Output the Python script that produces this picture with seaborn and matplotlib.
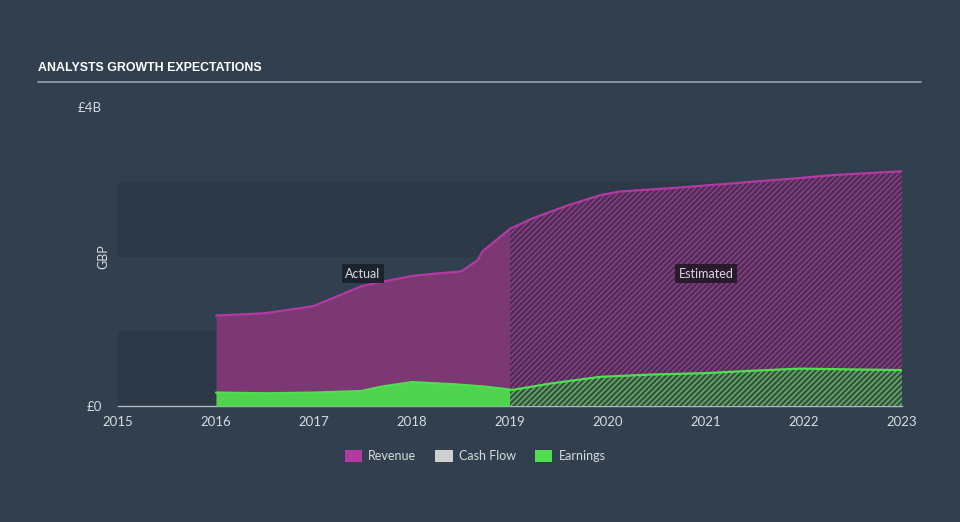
import numpy as np
import pandas as pd
import matplotlib
matplotlib.use("Agg")
import matplotlib.pyplot as plt
from matplotlib.patches import Patch
import seaborn as sns

# ---- data (GBP billions) ----
rev_act_years = [2016.0, 2016.49, 2016.87, 2017.0, 2017.48, 2017.65, 2018.0, 2018.23, 2018.5, 2018.57, 2018.67, 2018.72, 2019.0]
rev_act_vals = [1.21, 1.24, 1.31, 1.34, 1.60, 1.65, 1.74, 1.77, 1.80, 1.86, 1.95, 2.07, 2.37]
earn_act_years = [2016.0, 2016.53, 2017.0, 2017.48, 2017.69, 2018.0, 2018.44, 2018.74, 2019.0]
earn_act_vals = [0.18, 0.17, 0.18, 0.20, 0.26, 0.32, 0.29, 0.26, 0.22]
rev_est_years = [2019.0, 2019.23, 2019.58, 2019.92, 2020.12, 2020.60, 2021.28, 2021.96, 2022.30, 2023.0]
rev_est_vals = [2.37, 2.51, 2.68, 2.82, 2.87, 2.91, 2.98, 3.05, 3.09, 3.14]
earn_est_years = [2019.0, 2019.41, 2019.92, 2020.43, 2021.0, 2021.45, 2021.96, 2022.47, 2023.0]
earn_est_vals = [0.21, 0.30, 0.39, 0.42, 0.44, 0.47, 0.50, 0.49, 0.48]
x_ticks = [2015, 2016, 2017, 2018, 2019, 2020, 2021, 2022, 2023]
y_ticks = [0, 4e9]
y_tick_labels = ["£0", "£4B"]
legend_labels = ["Revenue", "Cash Flow", "Earnings"]

BG = "#323f4e"
BAND = "#2d3947"
TXT = "#d6dbe0"
REV_LINE = "#b23aa3"
REV_FILL = "#7b3873"
EARN_LINE = "#4fe04f"
EARN_FILL = "#50d450"

sns.set_theme(style="dark")
plt.rcParams["font.family"] = ["Lato", "DejaVu Sans"]
plt.rcParams["hatch.linewidth"] = 1.0

fig = plt.figure(figsize=(9.6, 5.22), dpi=100, facecolor=BG)
ax = fig.add_axes([118 / 960, 1 - 406 / 522, (902 - 118) / 960, (406 - 107) / 522])
ax.set_facecolor(BG)

ax.axhspan(0, 1e9, color=BAND, zorder=0, lw=0)
ax.axhspan(2e9, 3e9, color=BAND, zorder=0, lw=0)

def df(years, vals):
    return pd.DataFrame({"year": years, "value": np.array(vals) * 1e9})

ra = df(rev_act_years, rev_act_vals)
ea = df(earn_act_years, earn_act_vals)
re_ = df(rev_est_years, rev_est_vals)
ee = df(earn_est_years, earn_est_vals)

# actual areas
ax.fill_between(ra["year"], 0, ra["value"], color=REV_FILL, lw=0, zorder=2)
ax.fill_between(ea["year"], 0, ea["value"], color=EARN_FILL, lw=0, zorder=3)
# estimated hatched areas
ax.fill_between(re_["year"], 0, re_["value"], facecolor="#4d2f55", edgecolor="#923d8b",
                hatch="//////", lw=0, zorder=2)
ax.fill_between(ee["year"], 0, ee["value"], facecolor="#3b5146", edgecolor="#62bb62",
                hatch="//////", lw=0, zorder=3)

sns.lineplot(data=ra, x="year", y="value", color=REV_LINE, lw=1.6, ax=ax, zorder=4)
sns.lineplot(data=re_, x="year", y="value", color=REV_LINE, lw=1.6, ax=ax, zorder=4)
sns.lineplot(data=ea, x="year", y="value", color=EARN_LINE, lw=1.6, ax=ax, zorder=5)
sns.lineplot(data=ee, x="year", y="value", color=EARN_LINE, lw=1.6, ax=ax, zorder=5)

ax.set_xlim(2015, 2023)
ax.set_ylim(0, 4e9)
ax.set_xticks(x_ticks)
ax.set_xticklabels([str(t) for t in x_ticks])
ax.set_yticks(y_ticks)
ax.set_yticklabels(y_tick_labels)
ax.tick_params(axis="x", colors="#aeb7c1", length=6, width=1, labelcolor=TXT, labelsize=9.5, pad=1)
ax.tick_params(axis="y", length=0, labelcolor=TXT, labelsize=9.5, pad=11.5)
ax.set_xlabel("")
ax.set_ylabel("GBP", color=TXT, fontsize=9, labelpad=6)
ax.yaxis.set_label_coords(-0.011, 0.5)
for s in ["top", "right", "left"]:
    ax.spines[s].set_visible(False)
ax.spines["bottom"].set_color("#aeb7c1")
ax.spines["bottom"].set_linewidth(1)
ax.grid(False)

# annotations
ax.text(2017.5, 1.77e9, "Actual", ha="center", va="center", color=TXT, fontsize=9, zorder=6,
        bbox=dict(boxstyle="square,pad=0.3", fc="#1b232c", ec="none"))
ax.text(2021.0, 1.77e9, "Estimated", ha="center", va="center", color=TXT, fontsize=9, zorder=6,
        bbox=dict(boxstyle="square,pad=0.3", fc="#2a1a2e", ec="none"))

# title
fig.text(38 / 960, 1 - 68 / 522, "ANALYSTS GROWTH EXPECTATIONS", color="white",
         fontweight="bold", ha="left", va="center", fontsize=8.9,
         family=["Liberation Sans", "DejaVu Sans"])
fig.add_artist(plt.Line2D([38 / 960, 921 / 960], [1 - 82 / 522, 1 - 82 / 522],
                          color="#9aa3ad", lw=1.2))

# legend
handles = [Patch(facecolor=REV_LINE, edgecolor="none"),
           Patch(facecolor="#d0d0d0", edgecolor="none"),
           Patch(facecolor=EARN_LINE, edgecolor="none")]
leg = fig.legend(handles, legend_labels, loc="center", bbox_to_anchor=(475 / 960, 1 - 456 / 522),
                 ncol=3, frameon=False, fontsize=9, handlelength=1.4, handleheight=1.1,
                 columnspacing=1.5, handletextpad=0.5)
for t in leg.get_texts():
    t.set_color(TXT)

fig.savefig("out.png", dpi=100, facecolor=BG)
